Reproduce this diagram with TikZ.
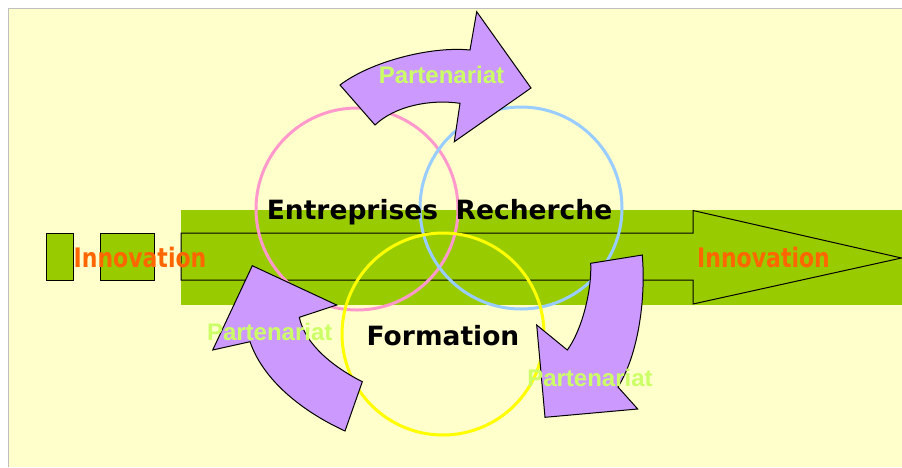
\documentclass[tikz,border=0pt]{standalone}
\usepackage{fontspec}
\usepackage{graphicx}
\setmainfont{DejaVu Sans}
\newfontfamily\arialfont{Liberation Sans}
\definecolor{bgyellow}{HTML}{FFFFCC}
\definecolor{bandgreen}{HTML}{99CC00}
\definecolor{arrowpurple}{HTML}{CC99FF}
\definecolor{partgreen}{HTML}{CCFF66}
\definecolor{innovorange}{HTML}{FF6600}
\definecolor{ringpink}{HTML}{FF99CC}
\definecolor{ringblue}{HTML}{99CCFF}
\definecolor{ringyellow}{HTML}{FFFF00}
\begin{document}
\begin{tikzpicture}[x=1pt,y=-1pt,
  greenshape/.style={fill=bandgreen, draw=black, line width=1pt},
  ring/.style={line width=3pt},
  bigarrow/.style={fill=arrowpurple, draw=black, line width=1pt, line join=miter},
  partlabel/.style={text=partgreen, font=\arialfont\bfseries\fontsize{24}{28}\selectfont, anchor=base, inner sep=0pt},
  innovlabel/.style={text=innovorange, font=\bfseries\fontsize{22}{26}\selectfont, anchor=base, inner sep=0pt},
  ringlabel/.style={text=black, font=\bfseries\fontsize{26.5}{30}\selectfont, anchor=base, inner sep=0pt}]
\useasboundingbox (0,0) rectangle (902,467);
\fill[white] (0,0) rectangle (902,467);
\fill[bgyellow] (8,9) rectangle (902,467);
\draw[black!25, line width=1pt] (8.5,467) -- (8.5,8.5) -- (902,8.5);
% green band and striped arrow
\fill[bandgreen] (181,210) rectangle (902,305);
\draw[greenshape] (46.7,233) rectangle (73.3,280);
\draw[greenshape] (100,233) rectangle (154,280);
\draw[greenshape] (181,233) -- (693,233) -- (693,210.5) -- (901.5,258) -- (693,304) -- (693,280) -- (181,280) -- cycle;
% rings
\coordinate (ent) at (357,209);
\coordinate (rec) at (521,208);
\coordinate (form) at (443,334);
\draw[ring, ringpink] (ent) circle[radius=101];
\draw[ring, ringblue] (rec) circle[radius=101];
\draw[ring, ringyellow] (form) circle[radius=101];
% top curved arrow
\draw[bigarrow] (340,85) .. controls (370,62) and (430,46) .. (470,50)
  -- (476.7,11.7) -- (531,88) -- (454.3,141.7) -- (460,103.3)
  .. controls (430,99) and (395,106) .. (375,125) -- cycle;
% bottom-left curved arrow
\draw[bigarrow] (345,431) .. controls (310,415) and (265,385) .. (250,341.7)
  -- (212.7,350) -- (252.3,265.7) -- (336.7,305) -- (299.3,317.3)
  .. controls (305,345) and (335,368) .. (362.3,381.7) -- cycle;
% bottom-right curved arrow
\draw[bigarrow] (642.3,255) .. controls (646,300) and (638,355) .. (618,387)
  -- (637.7,409) -- (545,417.3) -- (536.7,325) -- (567.3,350)
  .. controls (582,330) and (592,290) .. (590.7,263.3) -- cycle;
% labels
\node[ringlabel] (tent) at (352.5,219) {Entreprises};
\node[ringlabel] (trec) at (534,219) {Recherche};
\node[ringlabel] (tform) at (443,345) {Formation};
\node[partlabel] (p1) at (441.5,83) {Partenariat};
\node[partlabel] (p2) at (269.7,340) {Partenariat};
\node[partlabel] (p3) at (590,386.7) {Partenariat};
\node[innovlabel] (i1) at (140,267) {\scalebox{1}[1.22]{Innovation}};
\node[innovlabel] (i2) at (763.5,267) {\scalebox{1}[1.22]{Innovation}};
\end{tikzpicture}
\end{document}
